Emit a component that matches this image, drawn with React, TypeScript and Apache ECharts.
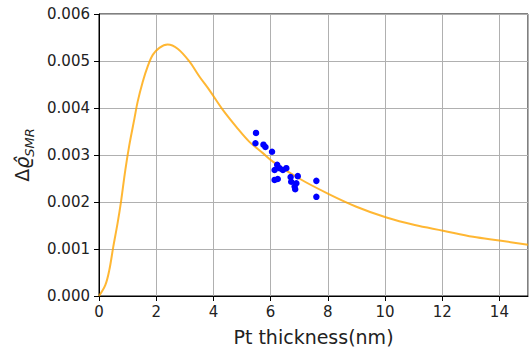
import React, { useEffect, useRef } from "react";
import * as echarts from "echarts";

const curveX = [0, 0.22, 0.36, 0.5, 0.65, 0.77, 0.92, 1.06, 1.24, 1.35, 1.53, 1.7, 1.88, 2.11, 2.4, 2.75, 3.16, 3.51, 3.86, 4.33, 4.8, 5.26, 5.73, 6.08, 7.0, 8.0, 9.0, 10.05, 11.04, 12.03, 13.08, 14.0, 15.0];
const curveY = [0, 0.00023, 0.00055, 0.00105, 0.00155, 0.00201, 0.00268, 0.00321, 0.00378, 0.00413, 0.00456, 0.00488, 0.00513, 0.00528, 0.00535, 0.00526, 0.00499, 0.00467, 0.00438, 0.00396, 0.0036, 0.00328, 0.00304, 0.00286, 0.0025, 0.00218, 0.0019, 0.00167, 0.00151, 0.00139, 0.00126, 0.00118, 0.00109];

const pointX = [5.49, 5.47, 5.75, 5.82, 6.05, 6.23, 6.14, 6.31, 6.43, 6.55, 6.14, 6.25, 6.7, 6.95, 6.72, 6.9, 6.84, 6.86, 7.6, 7.6];
const pointY = [0.00347, 0.00325, 0.00322, 0.00317, 0.00307, 0.00279, 0.00268, 0.00272, 0.00268, 0.00272, 0.00247, 0.00249, 0.00253, 0.00255, 0.00243, 0.0024, 0.00233, 0.00227, 0.00245, 0.00211];

const xTicks = [0, 2, 4, 6, 8, 10, 12, 14];
const yTicks = ["0.000", "0.001", "0.002", "0.003", "0.004", "0.005", "0.006"];

const FONT = "DejaVu Sans";

export default function App() {
  const ref = useRef<HTMLDivElement>(null);
  useEffect(() => {
    if (!ref.current) return;
    const chart = echarts.init(ref.current, undefined, { renderer: "svg" });
    chart.setOption({
      animation: false,
      backgroundColor: "#ffffff",
      grid: {
        left: 99,
        right: 3,
        top: 14,
        bottom: 51,
        containLabel: false,
        outerBoundsMode: "none",
        show: true,
        borderColor: "#000000",
        borderWidth: 1,
        backgroundColor: "transparent",
      },
      xAxis: {
        type: "value",
        min: 0,
        max: 15,
        interval: 2,
        name: "Pt thickness(nm)",
        nameLocation: "middle",
        nameGap: 31,
        nameTextStyle: { fontFamily: FONT, fontSize: 19, color: "#222" },
        axisLine: { show: true, lineStyle: { color: "#000", width: 1 } },
        axisTick: { show: true, length: 5, lineStyle: { color: "#000" } },
        axisLabel: {
          fontFamily: FONT,
          fontSize: 15,
          color: "#222",
          margin: 8,
          showMaxLabel: false,
          formatter: (v: number) => (xTicks.includes(v) ? String(v) : ""),
        },
        splitLine: { show: true, lineStyle: { color: "#b0b0b0", width: 1 } },
      },
      yAxis: {
        type: "value",
        min: 0,
        max: 0.006,
        interval: 0.001,
        name: "{d|Δ}{r|ϱ̂}{s|SMR}",
        nameLocation: "middle",
        nameRotate: 90,
        nameGap: 60,
        nameTextStyle: {
          color: "#222",
          rich: {
            d: { fontFamily: FONT, fontSize: 19, color: "#222", verticalAlign: "middle" },
            r: { fontFamily: FONT, fontSize: 19, fontStyle: "italic", color: "#222", verticalAlign: "middle" },
            s: { fontFamily: FONT, fontSize: 13, fontStyle: "italic", color: "#222", verticalAlign: "bottom", lineHeight: 28 },
          },
        },
        axisLine: { show: true, lineStyle: { color: "#000", width: 1 } },
        axisTick: { show: true, length: 5, lineStyle: { color: "#000" } },
        axisLabel: {
          fontFamily: FONT,
          fontSize: 15,
          color: "#222",
          margin: 9,
          formatter: (v: number) => yTicks[Math.round(v / 0.001)] ?? "",
        },
        splitLine: { show: true, lineStyle: { color: "#b0b0b0", width: 1 } },
      },
      series: [
        {
          type: "line",
          data: curveX.map((x, i) => [x, curveY[i]]),
          smooth: 0.35,
          showSymbol: false,
          lineStyle: { color: "#ffa500", width: 2, opacity: 0.8 },
          z: 2,
        },
        {
          type: "scatter",
          data: pointX.map((x, i) => [x, pointY[i]]),
          symbolSize: 6.5,
          itemStyle: { color: "#0000ff", opacity: 1 },
          z: 3,
        },
      ],
    });
    return () => chart.dispose();
  }, []);
  return (
    <div
      ref={ref}
      style={{ position: "fixed", left: 0, top: 0, width: 531, height: 347 }}
    />
  );
}
